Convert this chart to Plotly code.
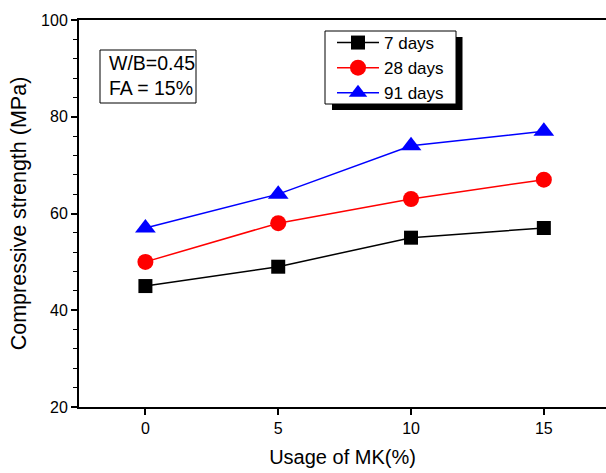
import plotly.graph_objects as go

mk_usage = [0, 5, 10, 15]
series_names = ["7 days", "28 days", "91 days"]
strength_7d = [45, 49, 55, 57]
strength_28d = [50, 58, 63, 67]
strength_91d = [57, 64, 74, 77]
x_ticks = [0, 5, 10, 15]
y_ticks = [20, 40, 60, 80, 100]

colors = ["black", "red", "blue"]
symbols = ["square", "circle", "triangle-up"]
sizes = [14, 16, 18]

fig = go.Figure()
for name, vals, c, s, sz in zip(series_names, [strength_7d, strength_28d, strength_91d], colors, symbols, sizes):
    fig.add_trace(go.Scatter(
        x=mk_usage, y=vals, name=name, mode="lines+markers",
        line=dict(color=c, width=1.5),
        marker=dict(symbol=s, size=sz, color=c, line=dict(width=0)),
    ))

W, H = 606, 473
L, R, T, B = 79, 0, 20, 66
pw = W - L - R
ph = H - T - B

def px(x):
    return (x - L) / pw

def py(y):
    return 1 - (y - T) / ph

fam = "Liberation Sans, Arial"
font = dict(family=fam, size=16, color="black")

fig.update_layout(
    width=W, height=H,
    margin=dict(l=L, r=R, t=T, b=B, autoexpand=False),
    paper_bgcolor="white", plot_bgcolor="white",
    font=font,
    showlegend=True,
    legend=dict(
        x=px(332), y=py(25), xanchor="left", yanchor="top",
        bgcolor="rgba(0,0,0,0)", borderwidth=0,
        font=dict(family=fam, size=17, color="black"),
        tracegroupgap=0, itemwidth=42,
    ),
    xaxis=dict(
        range=[-2.5, 17.34], tickvals=x_ticks, ticks="outside", ticklen=6,
        tickwidth=1.5, tickcolor="black", showline=True, linecolor="black", linewidth=2,
        mirror=True, showgrid=False, zeroline=False, automargin=False,
        title=dict(text="Usage of MK(%)", standoff=14, font=dict(family=fam, size=20, color="black")),
    ),
    yaxis=dict(
        range=[20, 100], tickmode="linear", tick0=20, dtick=20,
        ticks="outside", ticklen=6, tickcolor="black",
        tickwidth=1.5, showline=True, linecolor="black", linewidth=2,
        showgrid=False, zeroline=False, automargin=False,
        minor=dict(tickmode="linear", tick0=20, dtick=4, ticks="outside",
                   ticklen=4, tickwidth=1.2, tickcolor="black", showgrid=False),
        title=dict(text="Compressive strength (MPa)", standoff=9, font=dict(family=fam, size=21.5, color="black")),
    ),
    shapes=[
        dict(type="rect", xref="paper", yref="paper",
             x0=px(332), x1=px(462.5), y0=py(110), y1=py(37),
             fillcolor="black", line=dict(width=0), layer="above"),
        dict(type="rect", xref="paper", yref="paper",
             x0=px(325), x1=px(456), y0=py(104), y1=py(31),
             fillcolor="white", line=dict(color="black", width=1), layer="above"),
        dict(type="rect", xref="paper", yref="paper",
             x0=px(100), x1=px(196), y0=py(103), y1=py(50),
             fillcolor="rgba(0,0,0,0)", line=dict(color="black", width=1)),
    ],
    annotations=[
        dict(text="W/B=0.45<br>FA = 15%", xref="paper", yref="paper",
             x=px(107), y=py(76), xanchor="left", yanchor="middle",
             showarrow=False, align="left",
             font=dict(family=fam, size=19.5, color="black")),
    ],
)

fig.write_html("out.html", config={"displayModeBar": False},
               post_script="document.body.style.margin='0';document.body.style.overflow='hidden';")
